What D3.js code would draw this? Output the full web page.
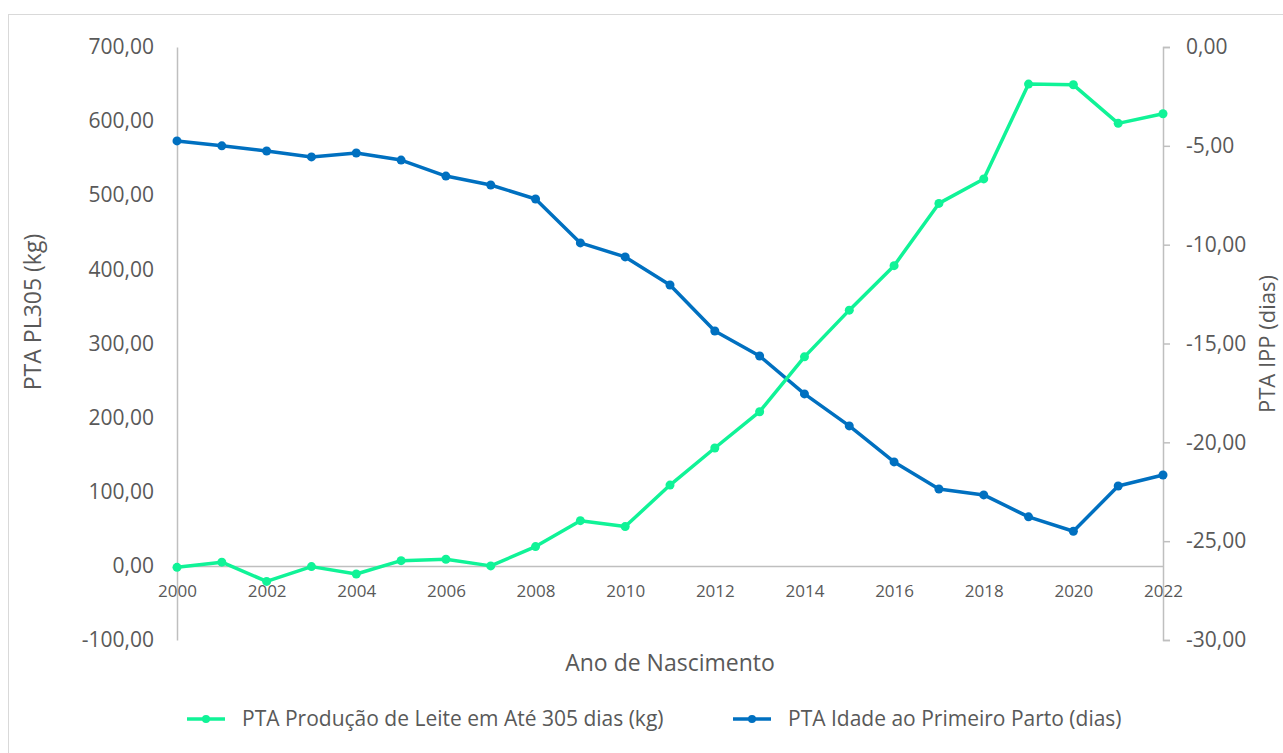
<!DOCTYPE html>
<html><head><meta charset="utf-8">
<script src="https://cdn.jsdelivr.net/npm/d3@7/dist/d3.min.js"></script>
<style>
body{margin:0;background:#fff;}
text{font-family:"Open Sans",sans-serif;fill:#595959;}
</style></head>
<body><svg id="c" width="1283" height="753"></svg>
<script>
const years = d3.range(2000, 2023);
const leite = [-2, 5, -21, -1, -11, 7, 9, 0, 26, 61, 53, 109, 159, 208, 282, 345, 405, 489, 522, 650, 649, 597, 610];
const ipp = [-4.75, -5.0, -5.26, -5.56, -5.36, -5.72, -6.53, -6.98, -7.69, -9.91, -10.62, -12.04, -14.37, -15.63, -17.55, -19.17, -20.99, -22.36, -22.66, -23.77, -24.5, -22.21, -21.65];
const leftTicks = [-100, 0, 100, 200, 300, 400, 500, 600, 700];
const rightTicks = [-30, -25, -20, -15, -10, -5, 0];
const xTicks = d3.range(2000, 2023, 2);
const seriesNames = ["PTA Produção de Leite em Até 305 dias (kg)", "PTA Idade ao Primeiro Parto (dias)"];

const svg = d3.select("#c");
const loc = d3.formatLocale({decimal: ",", thousands: ".", grouping: [3], currency: ["", ""], minus: "-"});
const fmt = loc.format(".2f");

svg.append("rect").attr("x", 8.5).attr("y", 14.5).attr("width", 1290).attr("height", 760)
  .attr("fill", "none").attr("stroke", "#d9d9d9").attr("stroke-width", 1);

const x = d3.scaleLinear().domain([2000, 2022]).range([177, 1163]);
const yL = d3.scaleLinear().domain([-100, 700]).range([640, 47]);
const yR = d3.scaleLinear().domain([-30, 0]).range([640, 47]);

// left axis
const gL = svg.append("g").attr("transform", "translate(177,0)")
  .call(d3.axisLeft(yL).tickValues(leftTicks).tickFormat(fmt).tickSize(0).tickPadding(23));
gL.select(".domain").attr("stroke", "#bfbfbf").attr("stroke-width", 1.5);
gL.selectAll("text").style("font-size", "21px").attr("fill", "#595959");

// right axis
const gR = svg.append("g").attr("transform", "translate(1163,0)")
  .call(d3.axisRight(yR).tickValues(rightTicks).tickFormat(fmt).tickSize(7).tickSizeOuter(7).tickPadding(16));
gR.select(".domain").attr("stroke", "#bfbfbf").attr("stroke-width", 1.5);
gR.selectAll(".tick line").attr("stroke", "#bfbfbf").attr("stroke-width", 1.5);
gR.selectAll("text").style("font-size", "21px").attr("fill", "#595959");

// x axis at zero
const gX = svg.append("g").attr("transform", `translate(0,${yL(0)})`)
  .call(d3.axisBottom(x).tickValues(xTicks).tickFormat(d3.format("d")).tickSize(0).tickPadding(19));
gX.select(".domain").attr("stroke", "#bfbfbf").attr("stroke-width", 1.5);
gX.selectAll("text").style("font-size", "17px").attr("fill", "#595959");

// axis titles
svg.append("text").attr("transform", "translate(41,312) rotate(-90)").attr("text-anchor", "middle")
  .style("font-size", "23px").text("PTA PL305 (kg)");
svg.append("text").attr("transform", "translate(1275,344) rotate(-90)").attr("text-anchor", "middle")
  .style("font-size", "22px").text("PTA IPP (dias)");
svg.append("text").attr("x", 670).attr("y", 671).attr("text-anchor", "middle")
  .style("font-size", "23px").text("Ano de Nascimento");

const green = "#10F397", blue = "#0070C0";
function drawSeries(vals, yScale, color) {
  const line = d3.line().x((d, i) => x(years[i])).y(d => yScale(d));
  svg.append("path").datum(vals).attr("d", line).attr("fill", "none")
    .attr("stroke", color).attr("stroke-width", 3.5).attr("stroke-linejoin", "round");
  svg.append("g").selectAll("circle").data(vals).join("circle")
    .attr("cx", (d, i) => x(years[i])).attr("cy", d => yScale(d)).attr("r", 4.5).attr("fill", color);
}
drawSeries(ipp, yR, blue);
drawSeries(leite, yL, green);

// legend
const leg = [{name: seriesNames[0], color: green, x: 187}, {name: seriesNames[1], color: blue, x: 733}];
leg.forEach(l => {
  svg.append("line").attr("x1", l.x).attr("x2", l.x + 38).attr("y1", 719).attr("y2", 719)
    .attr("stroke", l.color).attr("stroke-width", 3.5);
  svg.append("circle").attr("cx", l.x + 19).attr("cy", 719).attr("r", 4).attr("fill", l.color);
  svg.append("text").attr("x", l.x + 55).attr("y", 726).style("font-size", "21px").text(l.name);
});
</script></body></html>
